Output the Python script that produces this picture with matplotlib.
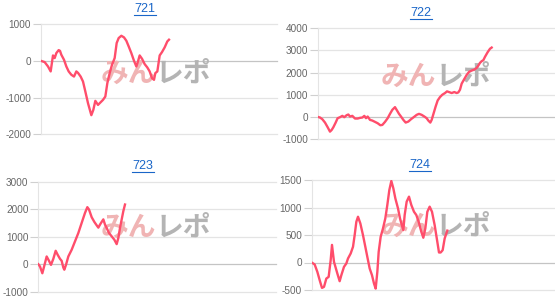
import matplotlib
matplotlib.use("Agg")
import matplotlib.pyplot as plt
from matplotlib.lines import Line2D

plt.rcParams['font.family'] = ['Liberation Sans', 'Noto Sans CJK JP', 'DejaVu Sans']
plt.rcParams['axes.unicode_minus'] = False

titles = ["721", "722", "723", "724"]

x721 = [0, 1.68, 3.09, 4.22, 5.2, 5.91, 6.62, 7.6, 8.17, 8.73, 9.86, 10.85, 11.84, 12.96,
        14.09, 15.08, 15.79, 16.91, 17.9, 18.89, 20.02, 21.43, 22.27, 23.12, 24.25, 25.38,
        26.36, 27.35, 28.2, 29.19, 30.18, 31.3, 32.15, 33.0, 34.13, 35.25, 36.24, 37.23,
        38.35, 39.48, 40.47, 41.17, 41.88, 42.87, 44.0, 45.12, 46.11, 47.1, 47.95, 48.51,
        49.36, 50.35, 51.33, 52.46, 53.59, 54.29]
y721 = [0, -36, -155, -290, 145, 73, 209, 290, 270, 164, 27, -155, -290, -380,
        -430, -290, -330, -430, -564, -836, -1155, -1480, -1336, -1090, -1200, -1127,
        -1064, -973, -609, -336, -109, 73, 482, 618, 680, 636, 545, 391,
        209, 0, -155, -18, 145, 55, -91, -182, -290, -473, -518, -336,
        -290, 145, 236, 364, 527, 573]

x722 = [0, 0.97, 1.95, 3.08, 4.2, 5.18, 5.89, 6.59, 7.57, 8.39, 9.4, 10.38, 11.2, 12.21,
        12.91, 13.61, 14.6, 15.72, 16.84, 17.83, 18.81, 19.65, 20.36, 21.06, 22.04, 23.02,
        24.15, 25.27, 26.4, 27.24, 28.36, 29.48, 30.47, 31.45, 32.57, 33.42, 34.26, 35.1,
        36.09, 37.07, 38.2, 39.32, 40.44, 41.71, 42.69, 43.81, 44.94, 45.92, 46.62, 47.46,
        48.03, 48.87, 49.71, 50.56, 51.54, 52.52, 53.65, 54.49, 55.33, 56.45, 57.58, 58.56,
        59.27, 59.97, 60.67, 61.79, 62.78, 63.76, 64.88, 66.01, 66.99, 67.69, 68.39, 69.1,
        69.8, 70.5, 71.63, 72.61, 73.31]
y722 = [0, -30, -106, -258, -470, -667, -591, -470, -258, -61, -15, 45, -15, 76,
        106, 15, 45, -76, -76, -45, -30, 45, -61, 15, -136, -167,
        -227, -288, -379, -364, -227, -61, 136, 318, 439, 288, 136, 15,
        -136, -258, -212, -106, -15, 91, 136, 91, 15, -61, -167, -258,
        -136, 167, 470, 742, 894, 1000, 1076, 1151, 1121, 1076, 1121, 1076,
        1106, 1227, 1500, 1712, 1894, 2030, 2091, 2136, 2212, 2318, 2439, 2515,
        2560, 2712, 2924, 3076, 3130]

x723 = [0, 0.72, 1.7, 2.54, 3.52, 4.5, 5.34, 6.32, 7.31, 8.15, 9.13, 9.83, 10.53, 10.95,
        11.65, 12.63, 14.04, 15.44, 16.84, 18.24, 19.65, 20.63, 21.33, 22.46, 23.58, 24.55,
        25.26, 25.96, 26.66, 27.36, 28.06, 28.76, 29.75, 30.87, 31.99, 32.97, 33.67, 34.37,
        35.07, 35.77, 36.47]
y723 = [0, -85, -330, -49, 281, 122, -24, 195, 488, 342, 195, 122, -122, -200,
        -24, 281, 525, 830, 1134, 1500, 1866, 2074, 1989, 1708, 1537, 1415,
        1330, 1440, 1537, 1630, 1440, 1318, 1134, 1013, 891, 730, 952, 1318,
        1623, 1928, 2170]

x724 = [0, 1.22, 2.32, 3.28, 4.23, 5.06, 6.01, 6.97, 7.8, 8.34, 9.16, 10.54, 11.49, 12.18,
        13.27, 14.23, 14.92, 16.02, 16.98, 17.66, 18.35, 19.03, 19.99, 21.08, 22.04, 22.86,
        23.83, 24.78, 25.61, 26.29, 26.98, 27.53, 28.35, 29.3, 30.26, 31.08, 31.91, 32.73,
        33.55, 34.38, 35.47, 36.29, 36.84, 37.66, 38.21, 39.03, 39.99, 40.95, 42.04, 43.0,
        43.96, 45.05, 45.88, 46.7, 47.53, 48.49, 49.44, 50.54, 51.63, 52.32, 53.01, 53.83,
        54.65, 55.74]
y724 = [0, -36, -170, -322, -462, -443, -292, -261, 43, 320, 12, -200, -340, -231,
        -79, -18, 73, 164, 286, 498, 741, 832, 711, 498, 286, 103,
        -109, -231, -383, -474, -170, 194, 468, 620, 802, 1045, 1318, 1482,
        1349, 1166, 984, 802, 711, 589, 863, 1106, 1197, 1045, 923, 863,
        741, 559, 450, 620, 923, 1015, 923, 680, 377, 182, 182, 225,
        437, 580]

yticks = [[-2000, -1000, 0, 1000],
          [-1000, 0, 1000, 2000, 3000, 4000],
          [-1000, 0, 1000, 2000, 3000],
          [-500, 0, 500, 1000, 1500]]

series = [(x721, y721), (x722, y722), (x723, y723), (x724, y724)]

W, H = 555, 301
fig = plt.figure(figsize=(W / 100, H / 100), dpi=100)

# axes rectangles in pixels: left, right, top, bottom
rects = [(40.7, 277, 24, 134.3),
         (317.7, 555, 28.3, 139),
         (38.3, 276, 181.7, 291.7),
         (311.7, 555, 180, 290)]
title_pos = [(145, 9.5), (421, 13.5), (142.7, 166), (419.7, 165)]
wm_pos = [(156, 74), (436, 77), (156, 228), (436, 227)]

line_color = "#ff4d6b"
grid_color = "#e4e4e4"
base_color = "#c4c4c4"
tick_color = "#666666"
title_color = "#1a66c8"

for i in range(4):
    l, r, t, b = rects[i]
    ax = fig.add_axes([l / W, 1 - b / H, (r - l) / W, (b - t) / H])
    xs, ys = series[i]
    ax.set_xlim(0, 100)
    ax.set_ylim(yticks[i][0], yticks[i][-1])
    ax.set_yticks(yticks[i])
    ax.set_yticklabels([str(v) for v in yticks[i]])
    ax.set_xticks([])
    for s in ["top", "right", "bottom"]:
        ax.spines[s].set_visible(False)
    ax.spines["left"].set_color(grid_color)
    ax.spines["left"].set_linewidth(0.8)
    ax.tick_params(axis="y", length=6, width=0.8, color="#d0d0d0", pad=1,
                   labelsize=7.2, labelcolor=tick_color)
    for v in yticks[i]:
        ax.axhline(v, color=base_color if v == 0 else grid_color, lw=0.9,
                   zorder=1, clip_on=False)
    ax.plot(xs, ys, color=line_color, lw=1.7, zorder=3, solid_joinstyle="round")

    wx, wy = wm_pos[i]
    ax.text(wx / W, 1 - wy / H, "みん", color="#f0b4b4", fontsize=20,
            fontweight="bold", family=["Noto Sans CJK JP"], ha="right", va="center",
            zorder=2, transform=fig.transFigure, clip_on=False)
    ax.text(wx / W, 1 - wy / H, "レポ", color="#b4b4b4", fontsize=20,
            fontweight="bold", family=["Noto Sans CJK JP"], ha="left", va="center",
            zorder=2, transform=fig.transFigure, clip_on=False)

    tx, ty = title_pos[i]
    fig.text(tx / W, 1 - ty / H, titles[i], color=title_color, fontsize=9,
             ha="center", va="center")
    fig.add_artist(Line2D([(tx - 11) / W, (tx + 11) / W],
                          [1 - (ty + 5.5) / H, 1 - (ty + 5.5) / H],
                          color=title_color, lw=0.8))

fig.savefig("out.png", dpi=100)
